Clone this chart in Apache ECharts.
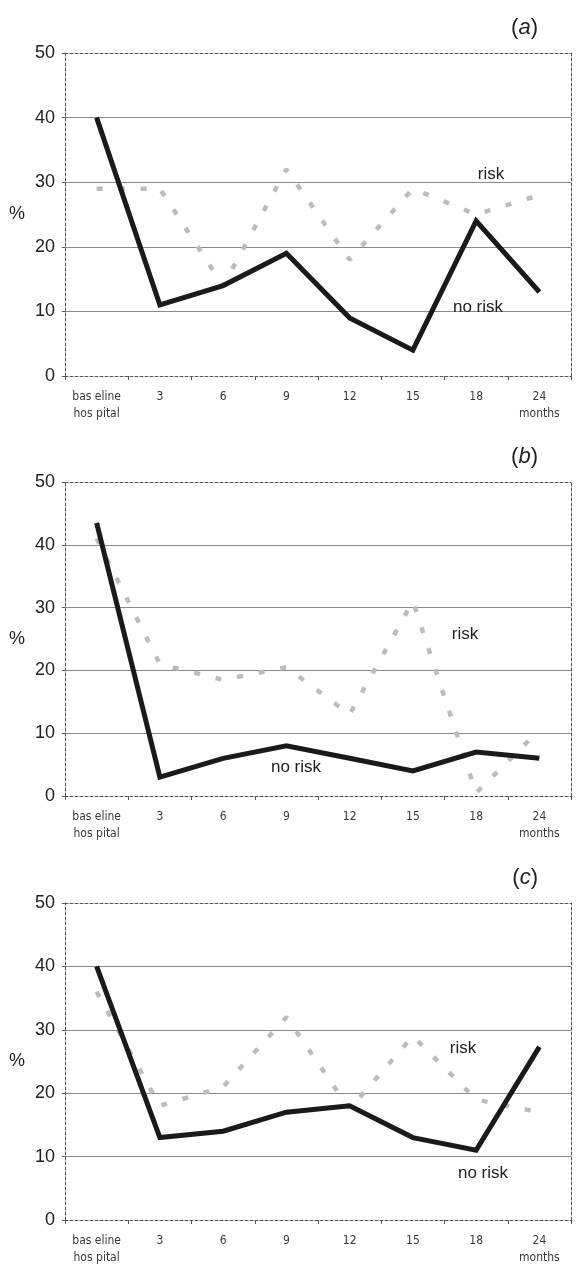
<!DOCTYPE html>
<html>
<head>
<meta charset="utf-8">
<script src="https://cdn.jsdelivr.net/npm/echarts@6/dist/echarts.min.js"></script>
<style>
  html, body { margin: 0; padding: 0; background: #fff; }
  #chart { width: 581px; height: 1280px; }
</style>
</head>
<body>
<div id="chart"></div>
<script>
// ---- data ----
const categories = ['bas eline\nhos pital', '3', '6', '9', '12', '15', '18', '24\nmonths'];
const yMin = 0, yMax = 50, yStep = 10;

const noRiskA = [40, 11, 14, 19, 9, 4, 24, 13];
const riskA   = [29, 29, 14, 32, 18, 29, 25, 28];

const noRiskB = [43.5, 3, 6, 8, 6, 4, 7, 6];
const riskB   = [41, 21, 18.5, 20.5, 13, 31, 0.5, 10.5];

const noRiskC = [40, 13, 14, 17, 18, 13, 11, 27.3];
const riskC   = [36, 18, 21, 32, 17.5, 29, 19, 17];

const panelLetters = ['a', 'b', 'c'];
const seriesNames = ['no risk', 'risk'];

// ---- layout / style ----
const grids = [
  { left: 65, right: 10, top: 53, height: 323 },
  { left: 65, right: 10, top: 482, height: 314 },
  { left: 65, right: 10, top: 903, height: 317 }
];
const panels = [
  { noRisk: noRiskA, risk: riskA },
  { noRisk: noRiskB, risk: riskB },
  { noRisk: noRiskC, risk: riskC }
];
const borderStyle = { color: '#555', width: 1, type: [3, 2] };
const textFont = 'Liberation Sans, Arial, sans-serif';
const catFont = 'DejaVu Sans Condensed, Liberation Sans Narrow, sans-serif';

const xAxes = [], yAxes = [], series = [], titles = [];
grids.forEach((g, i) => {
  xAxes.push({
    type: 'category', gridIndex: i, data: categories, position: 'bottom',
    boundaryGap: true,
    axisLine: { show: true, onZero: false, lineStyle: borderStyle },
    axisTick: { show: true, length: 4, lineStyle: { color: '#555' } },
    axisLabel: { color: '#3a3a3a', fontSize: 12, fontFamily: catFont, margin: 12, lineHeight: 17, interval: 0 },
    splitLine: { show: false }
  });
  xAxes.push({
    type: 'category', gridIndex: i, data: categories, position: 'top',
    axisLine: { show: true, onZero: false, lineStyle: borderStyle },
    axisTick: { show: false }, axisLabel: { show: false }, splitLine: { show: false }
  });
  yAxes.push({
    type: 'value', gridIndex: i, min: yMin, max: yMax, interval: yStep, position: 'left',
    name: '%', nameLocation: 'middle', nameRotate: 0, nameGap: 40,
    nameTextStyle: { fontSize: 18, color: '#222', fontFamily: textFont },
    axisLine: { show: true, onZero: false, lineStyle: borderStyle },
    axisTick: { show: true, length: 3, lineStyle: { color: '#555' } },
    axisLabel: { color: '#222', fontSize: 18, fontFamily: textFont, margin: 10 },
    splitLine: { show: true, lineStyle: { color: ['rgba(0,0,0,0)', '#8a8a8a', '#8a8a8a', '#8a8a8a', '#8a8a8a', 'rgba(0,0,0,0)'], width: 1 } }
  });
  yAxes.push({
    type: 'value', gridIndex: i, min: yMin, max: yMax, interval: yStep, position: 'right',
    axisLine: { show: true, onZero: false, lineStyle: borderStyle },
    axisTick: { show: false }, axisLabel: { show: false }, splitLine: { show: false }
  });
  series.push({
    name: seriesNames[1], type: 'line', xAxisIndex: i * 2, yAxisIndex: i * 2,
    data: panels[i].risk, showSymbol: false, symbol: 'none', z: 2,
    lineStyle: { color: '#bcbcbc', width: 4.5, type: [6, 16] }
  });
  series.push({
    name: seriesNames[0], type: 'line', xAxisIndex: i * 2, yAxisIndex: i * 2,
    data: panels[i].noRisk, showSymbol: false, symbol: 'none', z: 3,
    lineStyle: { color: '#1a1a1a', width: 5, join: 'miter' }
  });
  titles.push({
    text: '{p|(}{i|' + panelLetters[i] + '}{p|)}',
    right: 38, top: g.top - 41,
    textStyle: {
      fontWeight: 'normal',
      rich: {
        p: { fontSize: 22, color: '#222', fontFamily: textFont, fontWeight: 'normal' },
        i: { fontSize: 22, color: '#222', fontStyle: 'italic', fontFamily: textFont, fontWeight: 'normal' }
      }
    }
  });
});

// annotation texts (series labels)
const notes = [
  { text: 'risk', x: 491, y: 174 },
  { text: 'no risk', x: 478, y: 307 },
  { text: 'risk', x: 465, y: 634 },
  { text: 'no risk', x: 296, y: 767 },
  { text: 'risk', x: 463, y: 1048 },
  { text: 'no risk', x: 483, y: 1173 }
];

const chart = echarts.init(document.getElementById('chart'), null, { renderer: 'canvas' });
chart.setOption({
  animation: false,
  backgroundColor: '#fff',
  title: titles,
  grid: grids,
  xAxis: xAxes,
  yAxis: yAxes,
  series: series,
  graphic: notes.map(n => ({
    type: 'text', x: n.x, y: n.y,
    style: { text: n.text, fontSize: 17, fill: '#222', fontFamily: textFont, align: 'center', verticalAlign: 'middle' },
    z: 10
  }))
});
</script>
</body>
</html>
